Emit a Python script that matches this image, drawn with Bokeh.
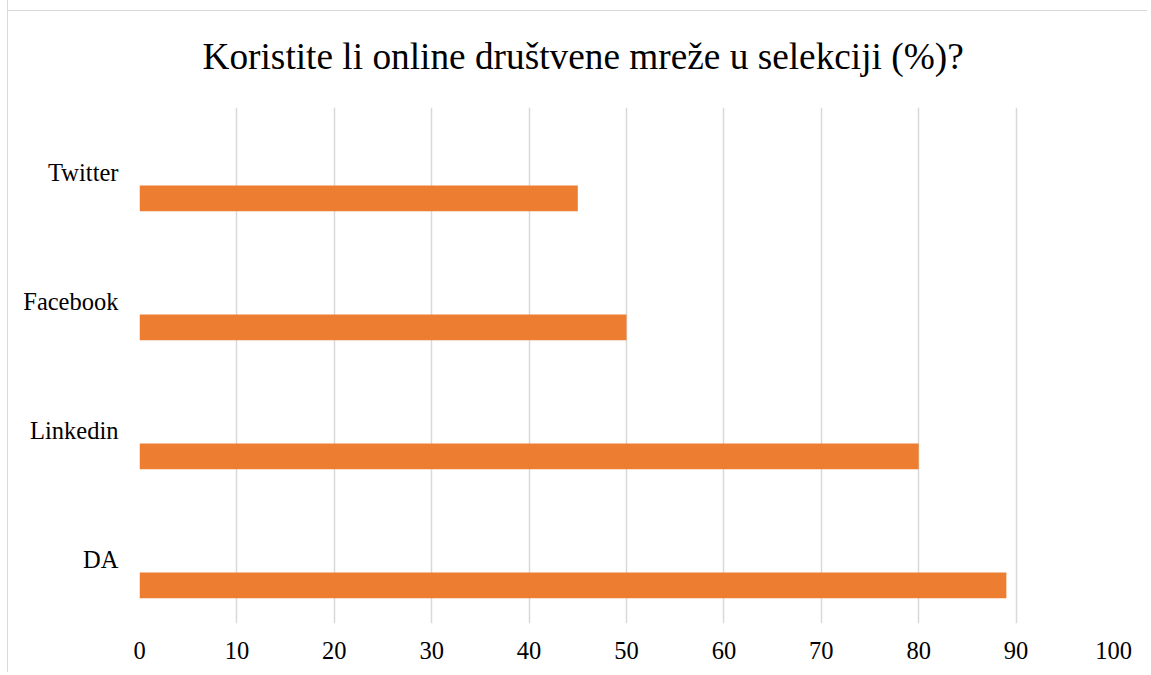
from bokeh.plotting import figure
from bokeh.models import ColumnDataSource, FactorRange, Range1d, FixedTicker
from bokeh.transform import dodge
from bokeh.embed import file_html
from bokeh.resources import INLINE

categories = ["DA", "Linkedin", "Facebook", "Twitter"]
values = [89, 80, 50, 45]
x_ticks = [0, 10, 20, 30, 40, 50, 60, 70, 80, 90, 100]
title_text = "Koristite li online društvene mreže u selekciji (%)?"

FONT = "Liberation Serif"
BAR = "#ED7D31"
GRID = "#d9d9d9"

src = ColumnDataSource(dict(cat=categories, val=values))

p = figure(
    width=1140, height=672,
    y_range=FactorRange(factors=categories, range_padding=0),
    x_range=Range1d(0, 100),
    output_backend="svg", toolbar_location=None,
    min_border_left=131, min_border_right=35,
    min_border_top=107, min_border_bottom=49,
)
# chart border: left edge via CSS border, top edge as a 1px band at 10px
p.styles = {
    "border-left": "1px solid #d9d9d9",
    "margin-left": "7px",
    "background": "linear-gradient(#d9d9d9, #d9d9d9) 0 10px / 100% 1px no-repeat, linear-gradient(white, white) 0 11px / 100% 100% no-repeat",
}

p.hbar(y=dodge("cat", -0.205, range=p.y_range), right="val", left=0, height=0.2,
       source=src, color=BAR, line_color=None)

p.title.text = title_text
p.title.text_font = FONT
p.title.text_font_size = "37.3px"
p.title.text_font_style = "normal"
p.title.text_color = "#000000"
p.title.align = "left"
p.title.offset = 63
p.title.standoff = 61

p.outline_line_color = None
p.background_fill_color = "white"
p.border_fill_color = None

p.xaxis.ticker = FixedTicker(ticks=x_ticks)
p.xaxis.axis_line_color = None
p.xaxis.major_tick_line_color = None
p.xaxis.minor_tick_line_color = None
p.xaxis.major_label_text_font = FONT
p.xaxis.major_label_text_font_size = "24.5px"
p.xaxis.major_label_text_color = "#000000"
p.xaxis.major_label_standoff = 12

p.yaxis.axis_line_color = None
p.yaxis.major_tick_line_color = None
p.yaxis.major_label_text_font = FONT
p.yaxis.major_label_text_font_size = "24.5px"
p.yaxis.major_label_text_color = "#000000"
p.yaxis.major_label_standoff = 15

p.xgrid.grid_line_color = GRID
p.xgrid.grid_line_width = 1.5
p.ygrid.grid_line_color = None

open("out.html", "w").write(file_html(p, INLINE))
